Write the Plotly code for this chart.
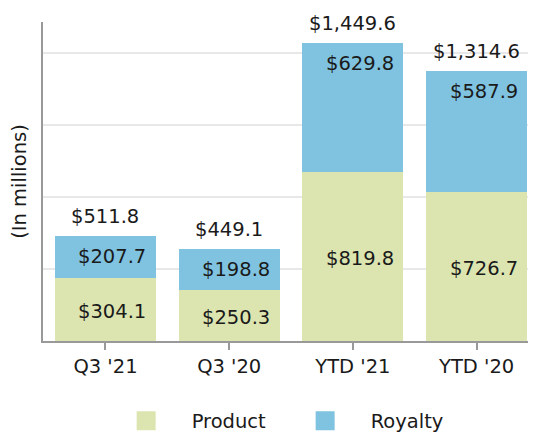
import plotly.graph_objects as go

categories = ["Q3 '21", "Q3 '20", "YTD '21", "YTD '20"]
product = [304.1, 250.3, 819.8, 726.7]
royalty = [207.7, 198.8, 629.8, 587.9]
totals = [511.8, 449.1, 1449.6, 1314.6]
series_names = ["Product", "Royalty"]

GREEN = "#dce5b0"
BLUE = "#7fc3e0"
FONT = "DejaVu Sans"
TXT = "#1a1a1a"
FS = 19.5

fig = go.Figure()
fig.add_trace(go.Bar(x=categories, y=product, name=series_names[0], showlegend=False,
                     marker=dict(color=GREEN, line=dict(width=0))))
fig.add_trace(go.Bar(x=categories, y=royalty, name=series_names[1], showlegend=False,
                     marker=dict(color=BLUE, line=dict(width=0))))
# legend entries with larger square swatches
for nm, col in zip(series_names, [GREEN, BLUE]):
    fig.add_trace(go.Scatter(x=[None], y=[None], mode="markers", name=nm,
                             marker=dict(symbol="square", size=16, color=col,
                                         line=dict(color=col, width=3))))

def money(v):
    return "${:,.1f}".format(v)

for c, p, r, t in zip(categories, product, royalty, totals):
    fig.add_annotation(x=c, y=t, text=money(t), showarrow=False, yshift=19,
                       font=dict(size=FS, color=TXT, family=FONT))
    fig.add_annotation(x=c, y=t, text=money(r), showarrow=False, yshift=-21, xshift=7,
                       font=dict(size=FS, color=TXT, family=FONT))
    fig.add_annotation(x=c, y=p / 2, text=money(p), showarrow=False, yshift=-2, xshift=7,
                       font=dict(size=FS, color=TXT, family=FONT))

fig.update_layout(
    width=528, height=424,
    barmode="stack", bargap=0.183,
    margin=dict(l=35, r=0, t=14, b=91),
    paper_bgcolor="white", plot_bgcolor="white",
    font=dict(family=FONT, size=FS, color=TXT),
    showlegend=True,
    legend=dict(orientation="h", x=0.48, xanchor="center", yref="container", y=0.026, yanchor="middle",
                font=dict(size=FS, color=TXT, family=FONT), itemwidth=81,
                entrywidth=83, traceorder="normal"),
    xaxis=dict(range=[-0.505, 3.48], showline=True, linecolor="#999999", linewidth=2,
               ticks="outside", ticklen=7, tickcolor="#999999", tickwidth=2,
               tickfont=dict(size=FS, color=TXT, family=FONT), showgrid=False),
    yaxis=dict(range=[0, 1551], showline=True, linecolor="#999999", linewidth=2,
               showticklabels=False, ticks="", dtick=350, showgrid=True, automargin=False,
               gridcolor="#e8e8e8", gridwidth=2, zeroline=False,
               title=dict(text="(In millions)", font=dict(size=FS, color=TXT, family=FONT), standoff=12)),
)

fig.write_html("out.html")
